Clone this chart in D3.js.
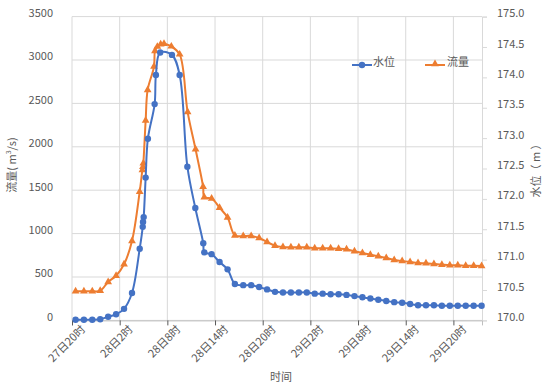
<!DOCTYPE html>
<html>
<head>
<meta charset="utf-8">
<script src="https://cdn.jsdelivr.net/npm/d3@7"></script>
<style>
  html, body { margin: 0; padding: 0; background: #fff; }
  svg text { font-family: "Noto Sans CJK SC", "Noto Sans", sans-serif; fill: #595959; }
</style>
</head>
<body>
<div id="chart"></div>
<script>
// hours after 27日20时
const levelTimes = [0.45, 1.5, 2.55, 3.55, 4.55, 5.55, 6.55, 7.55, 8.52, 8.9, 8.94, 9.02, 9.27, 9.55, 10.4, 10.56, 11.1, 12.58, 13.55,
  14.52, 15.52, 16.52, 16.65, 17.57, 18.57, 19.58, 20.5,
  21.55, 22.55, 23.55, 24.55, 25.55, 26.55, 27.55, 28.55, 29.55, 30.55, 31.55, 32.55, 33.55, 34.55, 35.55,
  36.55, 37.55, 38.55, 39.55, 40.55, 41.55, 42.55, 43.55, 44.55, 45.55, 46.55, 47.55, 48.55, 49.55, 50.55, 51.55];
const levelValues = [170.01, 170.01, 170.01, 170.02, 170.06, 170.10, 170.19, 170.45, 171.18, 171.54, 171.62, 171.70, 172.35, 172.99, 173.56, 174.04, 174.41, 174.37, 174.04,
  172.53, 171.85, 171.27, 171.12, 171.09, 170.96, 170.84, 170.60,
  170.58, 170.58, 170.55, 170.51, 170.47, 170.46, 170.46, 170.46, 170.46, 170.44, 170.44, 170.43, 170.43, 170.42, 170.40,
  170.38, 170.36, 170.34, 170.32, 170.30, 170.29, 170.27, 170.25, 170.25, 170.25, 170.24, 170.24, 170.24, 170.24, 170.24, 170.24];

const flowTimes = [0.45, 1.5, 2.55, 3.55, 4.55, 5.55, 6.55, 7.55, 8.52, 8.86, 8.93, 8.98, 9.27, 9.52, 10.32, 10.44, 10.74, 11.16, 11.58, 12.5, 13.55,
  14.55, 15.55, 16.5, 16.65, 17.57, 18.57, 19.58, 20.5,
  21.55, 22.55, 23.55, 24.55, 25.55, 26.55, 27.55, 28.55, 29.55, 30.55, 31.55, 32.55, 33.55, 34.55, 35.55,
  36.55, 37.55, 38.55, 39.55, 40.55, 41.55, 42.55, 43.55, 44.55, 45.55, 46.55, 47.55, 48.55, 49.55, 50.55, 51.55];
const flowValues = [335, 335, 335, 342, 443, 515, 647, 915, 1483, 1733, 1771, 1810, 2302, 2655, 2924, 3104, 3154, 3182, 3188, 3157, 3065,
  2402, 1972, 1541, 1419, 1405, 1299, 1186, 978,
  973, 973, 950, 904, 861, 846, 842, 842, 842, 831, 831, 831, 826, 819, 796,
  777, 757, 739, 719, 696, 685, 673, 662, 658, 650, 642, 635, 635, 630, 630, 627];

const xTickHours = [0, 6, 12, 18, 24, 30, 36, 42, 48];
const xTickLabels = ["27日20时", "28日2时", "28日8时", "28日14时", "28日20时", "29日2时", "29日8时", "29日14时", "29日20时"];
const flowTicks = [0, 500, 1000, 1500, 2000, 2500, 3000, 3500];
const levelTicks = [170, 170.5, 171, 171.5, 172, 172.5, 173, 173.5, 174, 174.5, 175];

const width = 550, height = 386;
const plotLeft = 72, plotRight = 482, plotTop = 16.6, plotBottom = 320.4;
const blue = "#4472c4", orange = "#ed7d31";

const svg = d3.select("#chart").append("svg")
  .attr("width", width)
  .attr("height", height);

const x = d3.scaleLinear().domain([0, 51.6]).range([plotLeft, plotRight]);
const yFlow = d3.scaleLinear().domain([0, 3500]).range([plotBottom, plotTop]);
const yLevel = d3.scaleLinear().domain([170, 175]).range([plotBottom, plotTop]);

// gridlines
const grid = svg.append("g").attr("stroke", "#d9d9d9").attr("stroke-width", 1);
grid.selectAll("line.h").data(flowTicks).enter().append("line")
  .attr("x1", plotLeft).attr("x2", plotRight)
  .attr("y1", d => yFlow(d)).attr("y2", d => yFlow(d));
grid.selectAll("line.v").data(xTickHours).enter().append("line")
  .attr("x1", d => x(d)).attr("x2", d => x(d))
  .attr("y1", plotTop).attr("y2", plotBottom);

// left axis labels (sit a little above their gridline, like the original)
svg.append("g").selectAll("text").data(flowTicks).enter().append("text")
  .attr("x", 53).attr("y", d => yFlow(d) - 3.5).attr("dy", "0.35em")
  .attr("text-anchor", "end").attr("font-size", 11)
  .text(d => d);

// right axis
const rAxis = svg.append("g").attr("transform", "translate(" + plotRight + ",0)")
  .call(d3.axisRight(yLevel).tickValues(levelTicks).tickSize(5).tickPadding(10).tickFormat(d3.format(".1f")));
rAxis.select(".domain").attr("stroke", "#d9d9d9");
rAxis.selectAll(".tick line").attr("stroke", "#d9d9d9");
rAxis.selectAll("text").attr("font-size", 11).attr("fill", "#595959")
  .style("font-family", "'Noto Sans CJK SC', sans-serif")
  .attr("y", -3.5);

// bottom axis
const bAxis = svg.append("g").attr("transform", "translate(0," + plotBottom + ")")
  .call(d3.axisBottom(x).tickValues(xTickHours).tickSize(5).tickFormat((d, i) => xTickLabels[i]));
bAxis.select(".domain").attr("stroke", "#bfbfbf");
bAxis.selectAll(".tick line").attr("stroke", "#595959");
bAxis.selectAll("text")
  .attr("font-size", 11).attr("fill", "#595959")
  .style("font-family", "'Noto Sans CJK SC', sans-serif")
  .attr("text-anchor", "end")
  .attr("transform", "translate(8,4) rotate(-45)")
  .attr("x", 0).attr("y", 0).attr("dy", "0.7em");

// axis titles
svg.append("text").attr("x", 281).attr("y", 381).attr("text-anchor", "middle")
  .attr("font-size", 11).text("时间");

const lt = svg.append("text").attr("transform", "translate(16,165) rotate(-90)")
  .attr("text-anchor", "middle").attr("font-size", 11);
lt.append("tspan").text("流量( m");
lt.append("tspan").attr("font-size", 7).attr("baseline-shift", "super").text("3");
lt.append("tspan").text("/s)");

svg.append("text").attr("transform", "translate(540,168) rotate(-90)")
  .attr("text-anchor", "middle").attr("font-size", 11).text("水位（ m ）");

// series
const flowData = flowTimes.map((t, i) => [t, flowValues[i]]);
const levelData = levelTimes.map((t, i) => [t, levelValues[i]]);

const flowLine = d3.line().x(d => x(d[0])).y(d => yFlow(d[1])).curve(d3.curveCatmullRom.alpha(0.5));
const levelLine = d3.line().x(d => x(d[0])).y(d => yLevel(d[1])).curve(d3.curveCatmullRom.alpha(0.5));

svg.append("path").attr("d", flowLine(flowData))
  .attr("fill", "none").attr("stroke", orange).attr("stroke-width", 2);
svg.append("g").selectAll("path").data(flowData).enter().append("path")
  .attr("d", d3.symbol(d3.symbolTriangle, 26))
  .attr("transform", d => "translate(" + x(d[0]) + "," + yFlow(d[1]) + ")")
  .attr("fill", orange);

svg.append("path").attr("d", levelLine(levelData))
  .attr("fill", "none").attr("stroke", blue).attr("stroke-width", 2);
svg.append("g").selectAll("circle").data(levelData).enter().append("circle")
  .attr("cx", d => x(d[0])).attr("cy", d => yLevel(d[1])).attr("r", 3.2)
  .attr("fill", blue);

// legend
const lg = svg.append("g");
lg.append("line").attr("x1", 352).attr("x2", 372).attr("y1", 65).attr("y2", 65)
  .attr("stroke", blue).attr("stroke-width", 2);
lg.append("circle").attr("cx", 362).attr("cy", 65).attr("r", 3.2).attr("fill", blue);
lg.append("text").attr("x", 373).attr("y", 65).attr("dy", "0.1em").attr("font-size", 11).text("水位");
lg.append("line").attr("x1", 425).attr("x2", 445).attr("y1", 65).attr("y2", 65)
  .attr("stroke", orange).attr("stroke-width", 2);
lg.append("path").attr("d", d3.symbol(d3.symbolTriangle, 26))
  .attr("transform", "translate(435,64)").attr("fill", orange);
lg.append("text").attr("x", 447).attr("y", 65).attr("dy", "0.1em").attr("font-size", 11).text("流量");
</script>
</body>
</html>
